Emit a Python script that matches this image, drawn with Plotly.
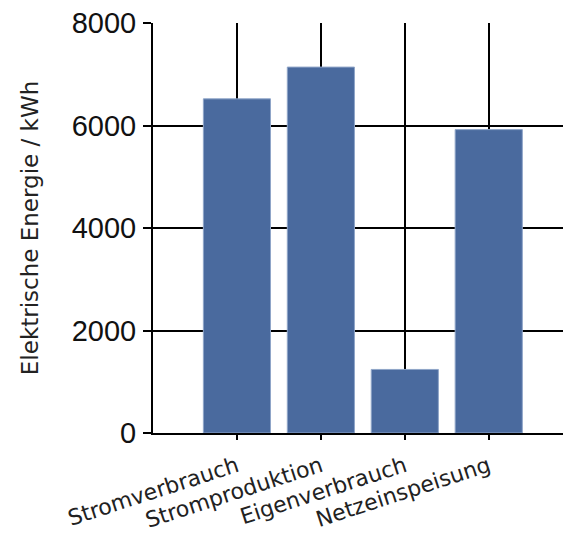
import plotly.graph_objects as go

categories = ["Stromverbrauch", "Stromproduktion", "Eigenverbrauch", "Netzeinspeisung"]
values = [6520, 7140, 1240, 5920]
y_tickvals = [0, 2000, 4000, 6000, 8000]
y_ticktext = ["0", "2000", "4000", "6000", "8000"]
y_title = "Elektrische Energie / kWh"

fig = go.Figure(go.Bar(
    x=categories, y=values,
    marker=dict(color="#4a6a9e", line=dict(color="#8fa5c8", width=1)),
))

fig.update_layout(
    width=563, height=534,
    margin=dict(l=145, r=0, t=15, b=109, autoexpand=False),
    paper_bgcolor="white", plot_bgcolor="white",
    bargap=0.2,
    showlegend=False,
)
fig.update_xaxes(
    type="category", range=[-1, 3.98],
    showgrid=True, gridcolor="black", gridwidth=2,
    showline=True, linecolor="black", linewidth=2,
    ticks="outside", ticklen=5, tickwidth=2, tickcolor="black",
    tickangle=-18,
    ticklabelstandoff=5,
    tickfont=dict(family="DejaVu Sans", size=22, color="#222222"),
)
fig.update_yaxes(
    range=[0, 8000], tickvals=y_tickvals, ticktext=y_ticktext,
    showgrid=True, gridcolor="black", gridwidth=2,
    showline=True, linecolor="black", linewidth=2,
    zeroline=False,
    ticks="outside", ticklen=8, tickwidth=2, tickcolor="black",
    ticklabelstandoff=1, ticklabeloverflow="allow",
    tickfont=dict(family="Liberation Sans", size=29, color="#111111"),
    title=dict(text=y_title, font=dict(family="DejaVu Sans", size=23, color="#222222"), standoff=27),
)

fig.write_html("out.html")
